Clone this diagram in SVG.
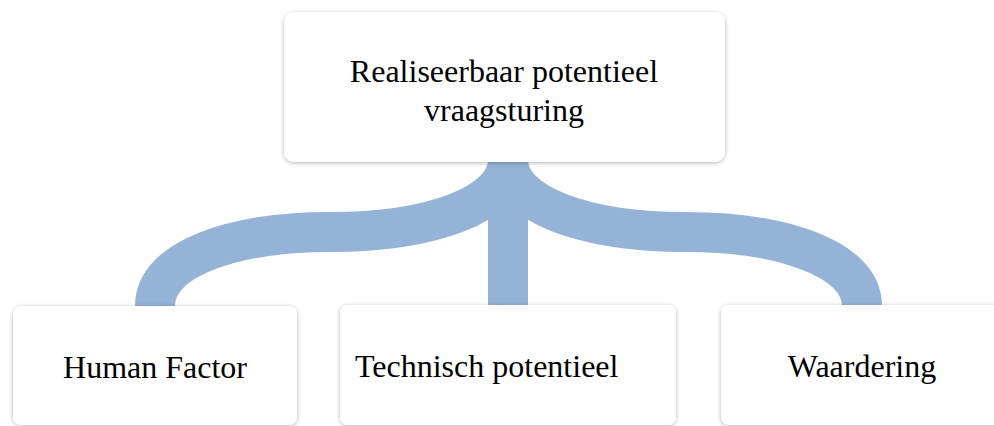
<svg xmlns="http://www.w3.org/2000/svg" width="994" height="426" viewBox="0 0 994 426">
<defs>
<filter id="sh" x="-10%" y="-10%" width="120%" height="130%">
<feDropShadow dx="0" dy="1" stdDeviation="2" flood-color="#000" flood-opacity="0.3"/>
</filter>
<style>
.box{fill:#fff;filter:url(#sh)}
.lbl{font-family:"Liberation Serif","Times New Roman",serif;font-size:32px;fill:#000}
.con{fill:none;stroke:#95B3D7;stroke-width:40}
</style>
</defs>
<rect width="994" height="426" fill="#fff"/>
<g id="connectors">
<path class="con" d="M155,306 C155,258 235,232 330,232 C430,232 508,205 508,160"/>
<path class="con" d="M508,160 L508,306"/>
<path class="con" d="M508,160 C508,205 586,232 686,232 C780,232 862,258 862,306"/>
</g>
<g id="top">
<rect class="box" x="284" y="12" width="441" height="150" rx="10"/>
<text class="lbl" x="504" y="82" text-anchor="middle">Realiseerbaar potentieel</text>
<text class="lbl" x="504" y="121" text-anchor="middle">vraagsturing</text>
</g>
<g id="human">
<rect class="box" x="13" y="306" width="284" height="119" rx="8"/>
<text class="lbl" x="155" y="378" text-anchor="middle">Human Factor</text>
</g>
<g id="technisch">
<rect class="box" x="340" y="305" width="336" height="120" rx="8"/>
<text class="lbl" x="355" y="377">Technisch potentieel</text>
</g>
<g id="waardering">
<rect class="box" x="721" y="305" width="284" height="120" rx="8"/>
<text class="lbl" x="862" y="377" text-anchor="middle">Waardering</text>
</g>
</svg>
